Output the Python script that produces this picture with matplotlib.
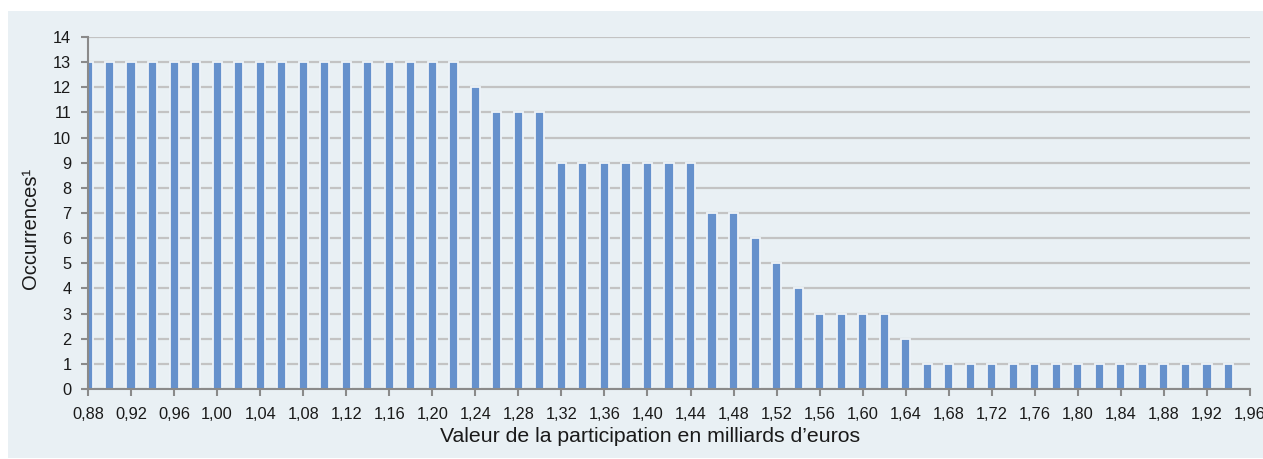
import numpy as np
import matplotlib.pyplot as plt
from matplotlib.patches import Rectangle

plt.rcParams['font.family'] = ['Liberation Sans', 'DejaVu Sans']

# valeur de la participation (milliards d'euros) et nombre d'occurrences
valeurs = [round(0.88 + 0.02 * i, 2) for i in range(54)]
occurrences = [13, 13, 13, 13, 13, 13, 13, 13, 13, 13,
               13, 13, 13, 13, 13, 13, 13, 13, 12, 11,
               11, 11, 9, 9, 9, 9, 9, 9, 9, 7,
               7, 6, 5, 4, 3, 3, 3, 3, 2, 1,
               1, 1, 1, 1, 1, 1, 1, 1, 1, 1,
               1, 1, 1, 1]
xticks = [round(0.88 + 0.04 * i, 2) for i in range(28)]
xlabels = [f"{v:.2f}".replace(".", ",") for v in xticks]

bg = "#e9f0f4"
grey = "#8a8a8a"

fig = plt.figure(figsize=(12.63, 4.59), dpi=100)
fig.add_artist(Rectangle((8 / 1263, 1 / 459), 1, 447 / 459, transform=fig.transFigure,
                         facecolor=bg, edgecolor="none", zorder=-10))

ax = fig.add_axes([88 / 1263, 1 - 389 / 459, (1250 - 88) / 1263, (389 - 37) / 459])
ax.set_facecolor("none")
ax.set_zorder(1)

ax.bar(valeurs, occurrences, width=0.0085, color="#6691cc",
       edgecolor="#eef3f8", linewidth=1.3, zorder=3)

ax.set_xlim(0.88, 1.96)
ax.set_ylim(0, 14)
ax.set_yticks(range(15))
ax.set_xticks(xticks)
ax.set_xticklabels(xlabels)
ax.grid(axis="y", color="#c3c3c3", linewidth=1.6, zorder=1)
ax.set_axisbelow(True)

for s in ["top", "right"]:
    ax.spines[s].set_visible(False)
for s in ["left", "bottom"]:
    ax.spines[s].set_color(grey)
    ax.spines[s].set_linewidth(1.5)
    ax.spines[s].set_zorder(4)
ax.tick_params(axis="both", colors=grey, width=1.5, length=5, labelcolor="#1a1a1a", labelsize=11.8)
ax.tick_params(axis="x", pad=8)
ax.tick_params(axis="y", pad=7)

ax.set_ylabel("Occurrences¹", fontsize=14.5, color="#1a1a1a", va="center")
ax.set_xlabel("Valeur de la participation en milliards d\u2019euros", fontsize=15.3,
              color="#1a1a1a", va="center")
ax.yaxis.set_label_coords((31 - 88) / 1162, (389 - 228) / 352)
ax.xaxis.set_label_coords((650 - 88) / 1162, (389 - 436) / 352)

fig.savefig("out.png", dpi=100)
